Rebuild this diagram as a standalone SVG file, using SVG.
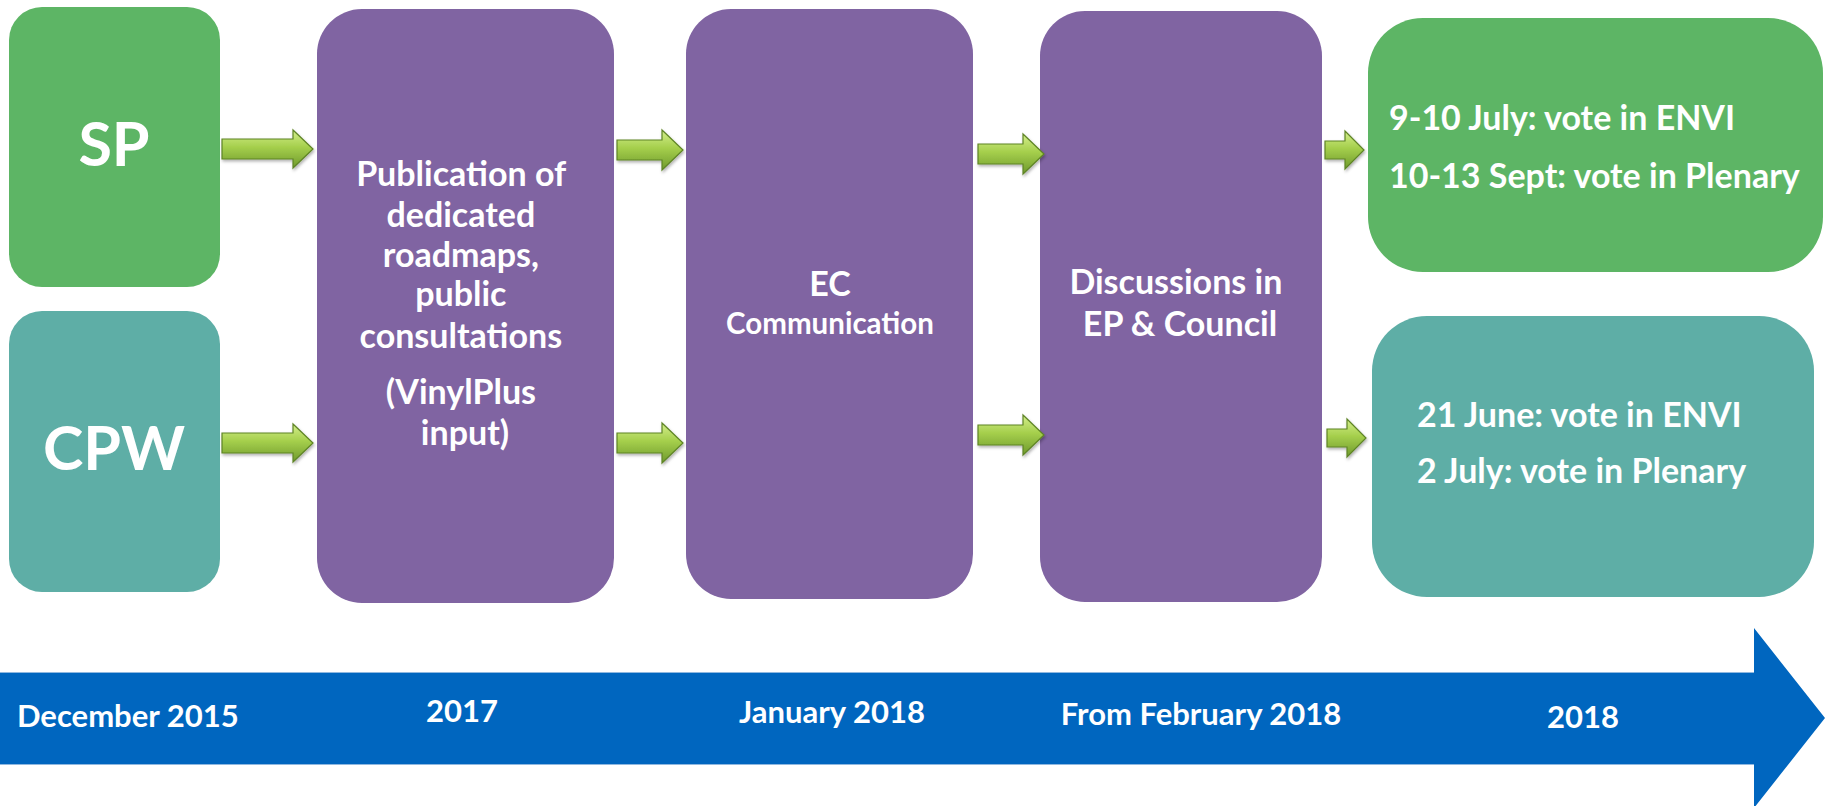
<svg xmlns="http://www.w3.org/2000/svg" width="1825" height="806" viewBox="0 0 1825 806">
<style>
.t{font-family:Lato,"Liberation Sans",sans-serif;font-weight:bold;fill:#fff}
.c{text-anchor:middle}
.g{fill:#5DB565}
.tl{fill:#5EAEA6}
.p{fill:#8064A2}
.ar{fill:url(#ag);stroke:#5E8425;stroke-width:1.2;filter:url(#sh)}
</style>
<defs>
<linearGradient id="ag" x1="0" y1="0" x2="0" y2="1">
<stop offset="0" stop-color="#D4EE8C"/>
<stop offset="0.45" stop-color="#A5CF4C"/>
<stop offset="1" stop-color="#6F9A2C"/>
</linearGradient>
<filter id="sh" x="-20%" y="-30%" width="140%" height="160%">
<feDropShadow dx="1" dy="2" stdDeviation="1.5" flood-color="#000" flood-opacity="0.3"/>
</filter>
</defs>
<g id="timeline">
<path d="M0,672 H1754 V628 L1825,718 L1754,808 V765 H0 Z" fill="#0066BF"/>
<line x1="0" y1="672.5" x2="1754" y2="672.5" stroke="#8FB8E0" stroke-width="1"/>
<line x1="0" y1="764.5" x2="1754" y2="764.5" stroke="#8FB8E0" stroke-width="1"/>
<text class="t" x="17" y="727" font-size="31">December 2015</text>
<text class="t c" x="462" y="722" font-size="31">2017</text>
<text class="t c" x="832" y="723" font-size="31">January 2018</text>
<text class="t c" x="1201" y="725" font-size="31">From February 2018</text>
<text class="t c" x="1583" y="728" font-size="31">2018</text>
</g>
<g id="sp">
<rect class="g" x="9" y="7" width="211" height="280" rx="33"/>
<text class="t c" x="114" y="166" font-size="61">SP</text>
</g>
<g id="cpw">
<rect class="tl" x="9" y="311" width="211" height="281" rx="33"/>
<text class="t c" x="114" y="470" font-size="61">CPW</text>
</g>
<g id="publication">
<rect class="p" x="317" y="9" width="297" height="594" rx="45"/>
<text class="t c" font-size="34">
<tspan x="465" y="186">Publication of</tspan>
<tspan x="465" y="227">dedicated</tspan>
<tspan x="465" y="267">roadmaps,</tspan>
<tspan x="465" y="306">public</tspan>
<tspan x="465" y="348">consultations</tspan>
<tspan x="465" y="404">(VinylPlus</tspan>
<tspan x="465" y="445">input)</tspan>
</text>
</g>
<g id="ec">
<rect class="p" x="686" y="9" width="287" height="590" rx="45"/>
<text class="t c" x="830" y="296" font-size="34">EC</text>
<text class="t c" x="830" y="334" font-size="29.5">Communication</text>
</g>
<g id="discussions">
<rect class="p" x="1040" y="11" width="282" height="591" rx="45"/>
<text class="t c" font-size="34">
<tspan x="1180" y="294">Discussions in</tspan>
<tspan x="1180" y="336">EP &amp; Council</tspan>
</text>
</g>
<g id="sp-votes">
<rect class="g" x="1368" y="18" width="455" height="254" rx="55"/>
<text class="t" font-size="34">
<tspan x="1389" y="130">9-10 July: vote in ENVI</tspan>
<tspan x="1389" y="188">10-13 Sept: vote in Plenary</tspan>
</text>
</g>
<g id="cpw-votes">
<rect class="tl" x="1372" y="316" width="442" height="281" rx="55"/>
<text class="t" font-size="34">
<tspan x="1417" y="427">21 June: vote in ENVI</tspan>
<tspan x="1417" y="483">2 July: vote in Plenary</tspan>
</text>
</g>
<g id="connectors">
<path class="ar" d="M222,139 H293 V130 L313,149 L293,168 V159 H222 Z"/>
<path class="ar" d="M222,433 H293 V424 L313,443 L293,462 V453 H222 Z"/>
<path class="ar" d="M617,140 H662 V130 L683,150 L662,170 V160 H617 Z"/>
<path class="ar" d="M617,433 H662 V423 L683,443 L662,463 V453 H617 Z"/>
<path class="ar" d="M978,144 H1023 V134 L1044,154 L1023,174 V164 H978 Z"/>
<path class="ar" d="M978,425 H1023 V415 L1044,435 L1023,455 V445 H978 Z"/>
<path class="ar" d="M1325,141 H1345 V131 L1364,150 L1345,169 V159 H1325 Z"/>
<path class="ar" d="M1327,429 H1347 V419 L1366,438 L1347,457 V447 H1327 Z"/>
</g>
</svg>
